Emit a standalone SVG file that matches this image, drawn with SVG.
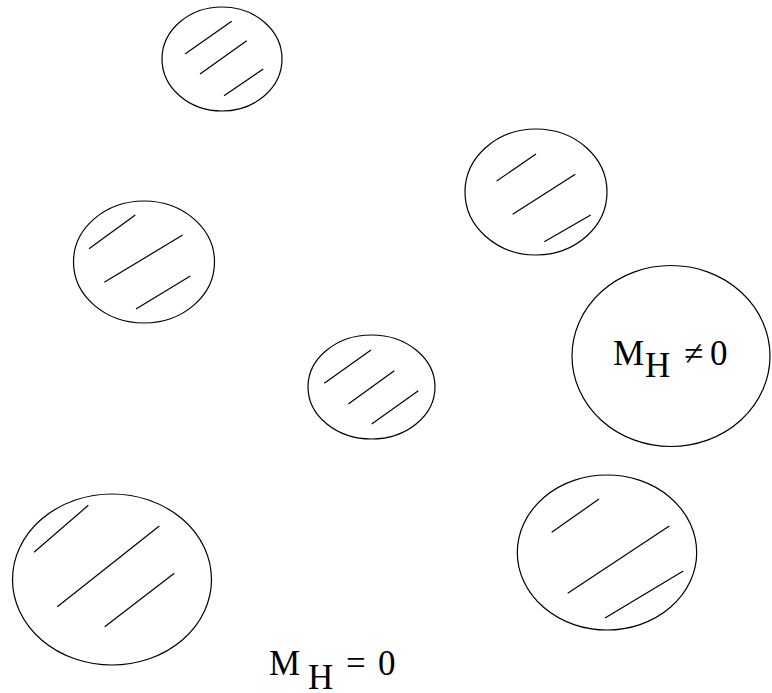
<svg xmlns="http://www.w3.org/2000/svg" width="772" height="693" viewBox="0 0 772 693">
<style>
.b{fill:none;stroke:#000;stroke-width:1.2}
.h{stroke:#000;stroke-width:1.2;fill:none}
.t{font-family:"Liberation Serif","Times New Roman",serif;font-size:35px;fill:#000}
</style>
<rect width="772" height="693" fill="#fff"/>
<g id="domain1">
<ellipse class="b" cx="222" cy="59" rx="60" ry="52"/>
<line class="h" x1="185" y1="54" x2="231.7" y2="21.3"/>
<line class="h" x1="200" y1="74" x2="246.7" y2="40.7"/>
<line class="h" x1="224" y1="95.7" x2="263.3" y2="69"/>
</g>
<g id="domain2">
<ellipse class="b" cx="536" cy="192" rx="71" ry="63"/>
<line class="h" x1="496.7" y1="181" x2="536" y2="154"/>
<line class="h" x1="512.7" y1="214.3" x2="575.3" y2="174.3"/>
<line class="h" x1="544.3" y1="241.7" x2="590.7" y2="215"/>
</g>
<g id="domain3">
<ellipse class="b" cx="144" cy="262" rx="70.5" ry="61"/>
<line class="h" x1="89" y1="248.7" x2="135.3" y2="215"/>
<line class="h" x1="104.3" y1="282.3" x2="182.7" y2="235"/>
<line class="h" x1="136" y1="309" x2="190.3" y2="276"/>
</g>
<g id="domain-magnetized">
<ellipse class="b" cx="671" cy="356" rx="99" ry="90.5"/>
<text class="t" x="613" y="365">M</text>
<text class="t" x="645" y="377">H</text>
<text class="t" x="684" y="365">≠</text>
<text class="t" x="710" y="365">0</text>
</g>
<g id="domain5">
<ellipse class="b" cx="371.5" cy="387" rx="63.5" ry="52"/>
<line class="h" x1="324.3" y1="383.3" x2="371" y2="350"/>
<line class="h" x1="348.3" y1="404" x2="394.3" y2="370.7"/>
<line class="h" x1="371.7" y1="424" x2="418.3" y2="390.7"/>
</g>
<g id="domain6">
<ellipse class="b" cx="112" cy="579.5" rx="99.5" ry="85.5"/>
<line class="h" x1="34" y1="552.3" x2="88.3" y2="505.3"/>
<line class="h" x1="57.3" y1="606.7" x2="159.3" y2="526"/>
<line class="h" x1="104.7" y1="626.7" x2="174.3" y2="573.3"/>
</g>
<g id="domain7">
<ellipse class="b" cx="607" cy="552.5" rx="89.7" ry="77.5"/>
<line class="h" x1="551.7" y1="532.3" x2="599" y2="499"/>
<line class="h" x1="567.7" y1="593.3" x2="669.3" y2="526"/>
<line class="h" x1="605" y1="618" x2="683.3" y2="571"/>
</g>
<g id="label-zero">
<text class="t" x="269" y="675">M</text>
<text class="t" x="308" y="689">H</text>
<text class="t" x="346" y="675">=</text>
<text class="t" x="378" y="675">0</text>
</g>
<g id="connectors"/>
</svg>
